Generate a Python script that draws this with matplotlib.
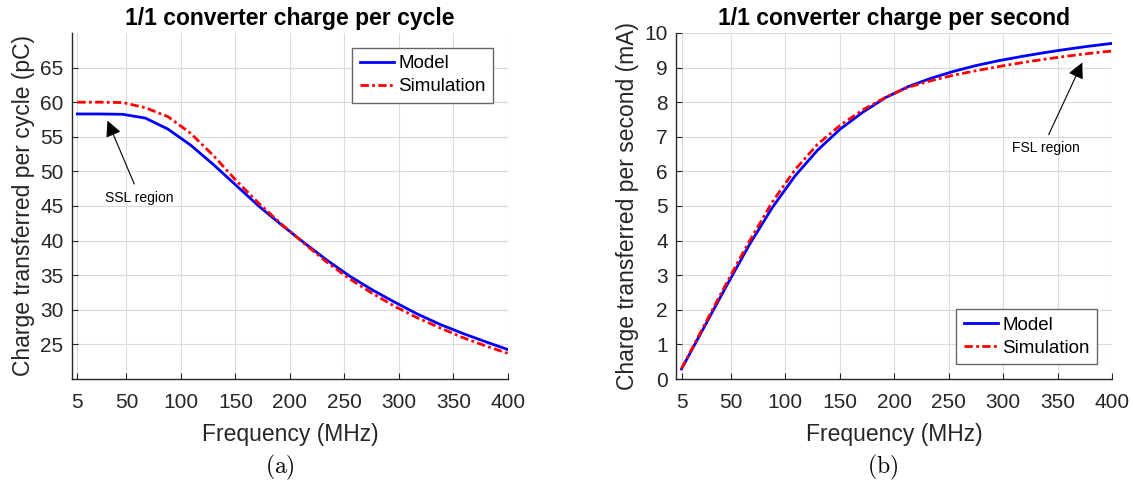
import matplotlib
matplotlib.use("Agg")
import matplotlib.pyplot as plt

plt.rcParams['font.family'] = ['Liberation Sans', 'DejaVu Sans']
plt.rcParams['mathtext.fontset'] = 'cm'

# frequency points (MHz)
freq = [5, 25.8, 46.6, 67.4, 88.2, 108.9, 129.7, 150.5, 171.3, 192.1,
        212.9, 233.7, 254.5, 275.3, 296.1, 316.8, 337.6, 358.4, 379.2, 400]

# charge per cycle (pC)
model_pc = [58.3, 58.3, 58.25, 57.7, 56.1, 53.8, 51.0, 48.0, 45.0, 42.3,
            39.7, 37.2, 34.9, 32.9, 31.1, 29.4, 27.9, 26.6, 25.4, 24.25]
sim_pc = [60.0, 60.0, 59.95, 59.2, 57.9, 55.5, 52.3, 48.7, 45.4, 42.4,
          39.6, 36.9, 34.5, 32.4, 30.5, 28.85, 27.4, 26.0, 24.8, 23.7]

# charge per second (mA)
model_ma = [0.29, 1.50, 2.71, 3.89, 4.95, 5.86, 6.61, 7.22, 7.71, 8.13,
            8.45, 8.69, 8.89, 9.06, 9.20, 9.32, 9.43, 9.53, 9.62, 9.70]
sim_ma = [0.30, 1.55, 2.79, 3.99, 5.11, 6.04, 6.78, 7.33, 7.78, 8.14,
          8.43, 8.62, 8.78, 8.91, 9.03, 9.14, 9.24, 9.33, 9.41, 9.48]

xticks = [5, 50, 100, 150, 200, 250, 300, 350, 400]
dark = (0.15, 0.15, 0.15)
dashdot = (0, (3, 1.2, 1, 1.2))

fig = plt.figure(figsize=(11.33, 4.91), dpi=100)
ax1 = fig.add_axes([0.0635, 0.2281, 0.3848, 0.7047])
ax2 = fig.add_axes([0.5967, 0.2281, 0.3848, 0.7047])


def style(ax):
    ax.set_xlim(0, 400)
    ax.set_xticks(xticks)
    ax.grid(True, color=(0.86, 0.86, 0.86), lw=0.8)
    ax.set_axisbelow(True)
    for s in ['top', 'right']:
        ax.spines[s].set_visible(False)
    for s in ['left', 'bottom']:
        ax.spines[s].set_color(dark)
        ax.spines[s].set_linewidth(1.0)
    ax.tick_params(direction='in', length=4, width=0.8, color=dark,
                   labelcolor=dark, labelsize=15)
    ax.tick_params(axis='x', pad=10)
    ax.tick_params(axis='y', pad=6)
    ax.set_xlabel('Frequency (MHz)', fontsize=16.5, color=dark, labelpad=8)


def add_legend(ax, loc, anchor):
    ax.legend(loc=loc, bbox_to_anchor=anchor, fontsize=13.5,
              fancybox=False, edgecolor=(0.4, 0.4, 0.4), framealpha=1,
              handlelength=1.85, borderpad=0.4, labelspacing=0.3,
              handletextpad=0.2, borderaxespad=0)


# (a) charge per cycle
ax1.plot(freq, model_pc, color='blue', lw=2, label='Model')
ax1.plot(freq, sim_pc, color='red', lw=2, ls=dashdot, label='Simulation')
style(ax1)
ax1.set_ylim(20, 70)
ax1.set_yticks(range(25, 70, 5))
ax1.set_ylabel('Charge transferred per cycle (pC)', fontsize=16.5, color=dark, labelpad=4)
ax1.set_title('1/1 converter charge per cycle', fontsize=16.5, fontweight='bold', pad=6)
add_legend(ax1, 'upper right', (0.966, 0.957))
ax1.annotate('', xy=(31.6, 57.7), xytext=(58.2, 47.8),
             arrowprops=dict(arrowstyle='-|>', color='k', lw=0.8, mutation_scale=24))
ax1.text(61.6, 46.2, 'SSL region', fontsize=10, ha='center', va='center')

# (b) charge per second
ax2.plot(freq, model_ma, color='blue', lw=2, label='Model')
ax2.plot(freq, sim_ma, color='red', lw=2, ls=dashdot, label='Simulation')
style(ax2)
ax2.set_ylim(0, 10)
ax2.set_yticks(range(0, 11))
ax2.set_ylabel('Charge transferred per second (mA)', fontsize=16.5, color=dark, labelpad=4)
ax2.set_title('1/1 converter charge per second', fontsize=16.5, fontweight='bold', pad=6)
add_legend(ax2, 'lower right', (0.966, 0.043))
ax2.annotate('', xy=(373.8, 9.22), xytext=(340.8, 6.99),
             arrowprops=dict(arrowstyle='-|>', color='k', lw=0.8, mutation_scale=24))
ax2.text(339.3, 6.69, 'FSL region', fontsize=10, ha='center', va='center')

fig.text(280 / 1133, 1 - 467 / 491, r'$\mathrm{(a)}$', fontsize=17, ha='center', va='center')
fig.text(883 / 1133, 1 - 467 / 491, r'$\mathrm{(b)}$', fontsize=17, ha='center', va='center')

fig.savefig('out.png', dpi=100)
